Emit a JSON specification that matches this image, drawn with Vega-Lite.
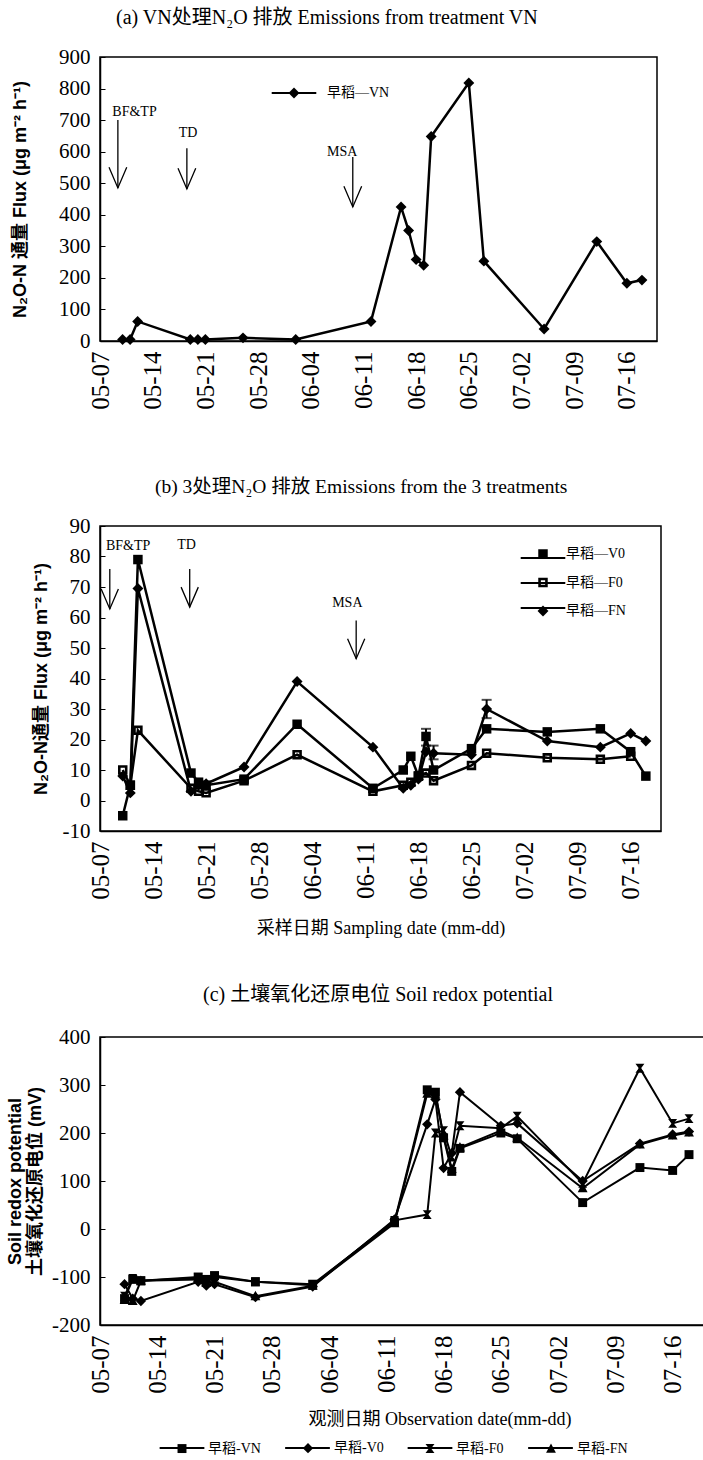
{
  "$schema": "https://vega.github.io/schema/vega-lite/v6.json",
  "padding": {"left": 5, "top": 6, "right": 0, "bottom": 0},
  "background": "white",
  "datasets": {
    "a": [
      {"date": "2008-05-10", "series": "VN", "flux": 5},
      {"date": "2008-05-11", "series": "VN", "flux": 5},
      {"date": "2008-05-12", "series": "VN", "flux": 62},
      {"date": "2008-05-19", "series": "VN", "flux": 5},
      {"date": "2008-05-20", "series": "VN", "flux": 5},
      {"date": "2008-05-21", "series": "VN", "flux": 5},
      {"date": "2008-05-26", "series": "VN", "flux": 10},
      {"date": "2008-06-02", "series": "VN", "flux": 5},
      {"date": "2008-06-12", "series": "VN", "flux": 62},
      {"date": "2008-06-16", "series": "VN", "flux": 425},
      {"date": "2008-06-17", "series": "VN", "flux": 350},
      {"date": "2008-06-18", "series": "VN", "flux": 258},
      {"date": "2008-06-19", "series": "VN", "flux": 240},
      {"date": "2008-06-20", "series": "VN", "flux": 648},
      {"date": "2008-06-25", "series": "VN", "flux": 818},
      {"date": "2008-06-27", "series": "VN", "flux": 253},
      {"date": "2008-07-05", "series": "VN", "flux": 38},
      {"date": "2008-07-12", "series": "VN", "flux": 315},
      {"date": "2008-07-16", "series": "VN", "flux": 183},
      {"date": "2008-07-18", "series": "VN", "flux": 193}
    ],
    "annA": [
      {"label": "BF&TP", "date": "2008-05-09T09:00:00Z", "top": 700, "tip": 485, "ldate": "2008-05-11T14:00:00Z", "lval": 727},
      {"label": "TD", "date": "2008-05-18T13:00:00Z", "top": 611, "tip": 482, "ldate": "2008-05-18T17:00:00Z", "lval": 660},
      {"label": "MSA", "date": "2008-06-09T14:00:00Z", "top": 583, "tip": 425, "ldate": "2008-06-08T04:00:00Z", "lval": 600}
    ],
    "b": [
      {"date": "2008-05-10", "series": "V0", "flux": -5},
      {"date": "2008-05-11", "series": "V0", "flux": 5},
      {"date": "2008-05-12", "series": "V0", "flux": 79},
      {"date": "2008-05-19", "series": "V0", "flux": 9},
      {"date": "2008-05-20", "series": "V0", "flux": 6},
      {"date": "2008-05-21", "series": "V0", "flux": 5},
      {"date": "2008-05-26", "series": "V0", "flux": 7},
      {"date": "2008-06-02", "series": "V0", "flux": 25},
      {"date": "2008-06-12", "series": "V0", "flux": 4},
      {"date": "2008-06-16", "series": "V0", "flux": 10},
      {"date": "2008-06-17", "series": "V0", "flux": 14.5},
      {"date": "2008-06-18", "series": "V0", "flux": 8},
      {"date": "2008-06-19", "series": "V0", "flux": 21},
      {"date": "2008-06-20", "series": "V0", "flux": 10},
      {"date": "2008-06-25", "series": "V0", "flux": 17},
      {"date": "2008-06-27", "series": "V0", "flux": 23.5},
      {"date": "2008-07-05", "series": "V0", "flux": 22.5},
      {"date": "2008-07-12", "series": "V0", "flux": 23.5},
      {"date": "2008-07-16", "series": "V0", "flux": 16},
      {"date": "2008-07-18", "series": "V0", "flux": 8},
      {"date": "2008-05-10", "series": "F0", "flux": 10},
      {"date": "2008-05-11", "series": "F0", "flux": 5},
      {"date": "2008-05-12", "series": "F0", "flux": 23},
      {"date": "2008-05-19", "series": "F0", "flux": 4},
      {"date": "2008-05-20", "series": "F0", "flux": 3},
      {"date": "2008-05-21", "series": "F0", "flux": 2.5},
      {"date": "2008-05-26", "series": "F0", "flux": 6.5},
      {"date": "2008-06-02", "series": "F0", "flux": 15},
      {"date": "2008-06-12", "series": "F0", "flux": 3},
      {"date": "2008-06-16", "series": "F0", "flux": 5},
      {"date": "2008-06-17", "series": "F0", "flux": 6},
      {"date": "2008-06-18", "series": "F0", "flux": 8},
      {"date": "2008-06-19", "series": "F0", "flux": 9},
      {"date": "2008-06-20", "series": "F0", "flux": 6.5},
      {"date": "2008-06-25", "series": "F0", "flux": 11.5},
      {"date": "2008-06-27", "series": "F0", "flux": 15.5},
      {"date": "2008-07-05", "series": "F0", "flux": 14},
      {"date": "2008-07-12", "series": "F0", "flux": 13.5},
      {"date": "2008-07-16", "series": "F0", "flux": 14.5},
      {"date": "2008-05-10", "series": "FN", "flux": 8},
      {"date": "2008-05-11", "series": "FN", "flux": 2.5},
      {"date": "2008-05-12", "series": "FN", "flux": 69.5},
      {"date": "2008-05-19", "series": "FN", "flux": 3},
      {"date": "2008-05-20", "series": "FN", "flux": 5},
      {"date": "2008-05-21", "series": "FN", "flux": 5.5},
      {"date": "2008-05-26", "series": "FN", "flux": 11},
      {"date": "2008-06-02", "series": "FN", "flux": 39},
      {"date": "2008-06-12", "series": "FN", "flux": 17.5},
      {"date": "2008-06-16", "series": "FN", "flux": 4},
      {"date": "2008-06-17", "series": "FN", "flux": 5},
      {"date": "2008-06-18", "series": "FN", "flux": 7},
      {"date": "2008-06-19", "series": "FN", "flux": 16},
      {"date": "2008-06-20", "series": "FN", "flux": 15.5},
      {"date": "2008-06-25", "series": "FN", "flux": 15},
      {"date": "2008-06-27", "series": "FN", "flux": 30},
      {"date": "2008-07-05", "series": "FN", "flux": 19.5},
      {"date": "2008-07-12", "series": "FN", "flux": 17.5},
      {"date": "2008-07-16", "series": "FN", "flux": 22},
      {"date": "2008-07-18", "series": "FN", "flux": 19.5}
    ],
    "berr": [
      {"date": "2008-06-27", "series": "FN", "lo": 27, "hi": 33},
      {"date": "2008-06-19", "series": "V0", "lo": 18, "hi": 23.5},
      {"date": "2008-06-20", "series": "FN", "lo": 13.5, "hi": 18}
    ],
    "annB": [
      {"label": "BF&TP", "date": "2008-05-08T07:00:00Z", "top": 75.9, "tip": 62.8, "ldate": "2008-05-10T17:00:00Z", "lval": 83.5},
      {"label": "TD", "date": "2008-05-18T20:00:00Z", "top": 75.9, "tip": 63.4, "ldate": "2008-05-18T10:00:00Z", "lval": 83.7},
      {"label": "MSA", "date": "2008-06-09T19:00:00Z", "top": 59, "tip": 46.5, "ldate": "2008-06-08T15:00:00Z", "lval": 64.8}
    ],
    "c": [
      {"date": "2008-05-10", "series": "VN", "eh": -145},
      {"date": "2008-05-11", "series": "VN", "eh": -105},
      {"date": "2008-05-12", "series": "VN", "eh": -108},
      {"date": "2008-05-19", "series": "VN", "eh": -100},
      {"date": "2008-05-20", "series": "VN", "eh": -105},
      {"date": "2008-05-21", "series": "VN", "eh": -97},
      {"date": "2008-05-26", "series": "VN", "eh": -110},
      {"date": "2008-06-02", "series": "VN", "eh": -115},
      {"date": "2008-06-12", "series": "VN", "eh": 15},
      {"date": "2008-06-16", "series": "VN", "eh": 290},
      {"date": "2008-06-17", "series": "VN", "eh": 285},
      {"date": "2008-06-18", "series": "VN", "eh": 190},
      {"date": "2008-06-19", "series": "VN", "eh": 120},
      {"date": "2008-06-20", "series": "VN", "eh": 168},
      {"date": "2008-06-25", "series": "VN", "eh": 200},
      {"date": "2008-06-27", "series": "VN", "eh": 188},
      {"date": "2008-07-05", "series": "VN", "eh": 55},
      {"date": "2008-07-12", "series": "VN", "eh": 128},
      {"date": "2008-07-16", "series": "VN", "eh": 122},
      {"date": "2008-07-18", "series": "VN", "eh": 155},
      {"date": "2008-05-10", "series": "V0", "eh": -115},
      {"date": "2008-05-11", "series": "V0", "eh": -145},
      {"date": "2008-05-12", "series": "V0", "eh": -150},
      {"date": "2008-05-19", "series": "V0", "eh": -110},
      {"date": "2008-05-20", "series": "V0", "eh": -118},
      {"date": "2008-05-21", "series": "V0", "eh": -115},
      {"date": "2008-05-26", "series": "V0", "eh": -142},
      {"date": "2008-06-02", "series": "V0", "eh": -120},
      {"date": "2008-06-12", "series": "V0", "eh": 20},
      {"date": "2008-06-16", "series": "V0", "eh": 218},
      {"date": "2008-06-17", "series": "V0", "eh": 270},
      {"date": "2008-06-18", "series": "V0", "eh": 127},
      {"date": "2008-06-19", "series": "V0", "eh": 158},
      {"date": "2008-06-20", "series": "V0", "eh": 285},
      {"date": "2008-06-25", "series": "V0", "eh": 215},
      {"date": "2008-06-27", "series": "V0", "eh": 220},
      {"date": "2008-07-05", "series": "V0", "eh": 100},
      {"date": "2008-07-12", "series": "V0", "eh": 178},
      {"date": "2008-07-16", "series": "V0", "eh": 197},
      {"date": "2008-07-18", "series": "V0", "eh": 203},
      {"date": "2008-05-10", "series": "F0", "eh": -140},
      {"date": "2008-05-11", "series": "F0", "eh": -103},
      {"date": "2008-05-12", "series": "F0", "eh": -108},
      {"date": "2008-05-19", "series": "F0", "eh": -102},
      {"date": "2008-05-20", "series": "F0", "eh": -110},
      {"date": "2008-05-21", "series": "F0", "eh": -100},
      {"date": "2008-05-26", "series": "F0", "eh": -110},
      {"date": "2008-06-02", "series": "F0", "eh": -117},
      {"date": "2008-06-12", "series": "F0", "eh": 18},
      {"date": "2008-06-16", "series": "F0", "eh": 30},
      {"date": "2008-06-17", "series": "F0", "eh": 200},
      {"date": "2008-06-18", "series": "F0", "eh": 205},
      {"date": "2008-06-19", "series": "F0", "eh": 150},
      {"date": "2008-06-20", "series": "F0", "eh": 215},
      {"date": "2008-06-25", "series": "F0", "eh": 210},
      {"date": "2008-06-27", "series": "F0", "eh": 235},
      {"date": "2008-07-05", "series": "F0", "eh": 95},
      {"date": "2008-07-12", "series": "F0", "eh": 335},
      {"date": "2008-07-16", "series": "F0", "eh": 220},
      {"date": "2008-07-18", "series": "F0", "eh": 230},
      {"date": "2008-05-10", "series": "FN", "eh": -148},
      {"date": "2008-05-11", "series": "FN", "eh": -150},
      {"date": "2008-05-12", "series": "FN", "eh": -108},
      {"date": "2008-05-19", "series": "FN", "eh": -105},
      {"date": "2008-05-20", "series": "FN", "eh": -112},
      {"date": "2008-05-21", "series": "FN", "eh": -110},
      {"date": "2008-05-26", "series": "FN", "eh": -140},
      {"date": "2008-06-02", "series": "FN", "eh": -118},
      {"date": "2008-06-12", "series": "FN", "eh": 12},
      {"date": "2008-06-16", "series": "FN", "eh": 282},
      {"date": "2008-06-17", "series": "FN", "eh": 280},
      {"date": "2008-06-18", "series": "FN", "eh": 195},
      {"date": "2008-06-19", "series": "FN", "eh": 125},
      {"date": "2008-06-20", "series": "FN", "eh": 170},
      {"date": "2008-06-25", "series": "FN", "eh": 205},
      {"date": "2008-06-27", "series": "FN", "eh": 190},
      {"date": "2008-07-05", "series": "FN", "eh": 85},
      {"date": "2008-07-12", "series": "FN", "eh": 176},
      {"date": "2008-07-16", "series": "FN", "eh": 195},
      {"date": "2008-07-18", "series": "FN", "eh": 201}
    ]
  },
  "columns": 1,
  "spacing": 45,
  "align": "none",
  "resolve": {"scale": {"shape": "independent", "color": "independent"}, "legend": {"shape": "independent", "color": "independent"}},
  "concat": [
    {
      "width": 557,
      "height": 284,
      "title": {"text": "(a) VN处理N₂O 排放 Emissions from treatment VN", "anchor": "start", "frame": "group", "dx": 16, "offset": 18.5},
      "layer": [
        {
          "data": {"name": "a"},
          "mark": {"type": "line", "strokeWidth": 2.5},
          "encoding": {
            "x": {"field": "date", "type": "temporal",
              "scale": {"type": "utc", "domain": [{"year": 2008, "month": 5, "date": 7, "utc": true}, {"year": 2008, "month": 7, "date": 20, "utc": true}]},
              "axis": {"title": null, "format": "%m-%d", "labelAngle": 270, "labelFontSize": 25, "labelPadding": 10, "ticks": false, "labelOverlap": false,
                "values": [{"year": 2008, "month": 5, "date": 7, "utc": true}, {"year": 2008, "month": 5, "date": 14, "utc": true}, {"year": 2008, "month": 5, "date": 21, "utc": true}, {"year": 2008, "month": 5, "date": 28, "utc": true}, {"year": 2008, "month": 6, "date": 4, "utc": true}, {"year": 2008, "month": 6, "date": 11, "utc": true}, {"year": 2008, "month": 6, "date": 18, "utc": true}, {"year": 2008, "month": 6, "date": 25, "utc": true}, {"year": 2008, "month": 7, "date": 2, "utc": true}, {"year": 2008, "month": 7, "date": 9, "utc": true}, {"year": 2008, "month": 7, "date": 16, "utc": true}]}},
            "y": {"field": "flux", "type": "quantitative",
              "scale": {"domain": [0, 900], "nice": false, "zero": false},
              "axis": {"title": "N₂O-N 通量 Flux (μg m⁻² h⁻¹)", "values": [0, 100, 200, 300, 400, 500, 600, 700, 800, 900], "tickCount": 30, "labelOverlap": false, "labelFontSize": 21, "labelPadding": 15, "tickSize": -5, "titleFont": "Liberation Sans, Noto Sans CJK SC", "titleFontWeight": "bold", "titleFontSize": 18, "titlePadding": 29}},
            "color": {"field": "series", "type": "nominal",
              "scale": {"domain": ["VN", "~"], "range": ["black", "black"]},
              "legend": {"orient": "none", "legendX": 187, "legendY": 29, "title": null, "padding": 0, "values": ["VN"], "symbolType": "M-4.7,0H4.7", "symbolSize": 90, "symbolStrokeWidth": 2.2, "symbolStrokeColor": "black", "labelOffset": 26, "labelFontSize": 14, "labelFont": "Liberation Serif, Noto Sans CJK SC", "labelOpacity": 0, "labelExpr": "'早稻—' + datum.label"}}
          }
        },
        {
          "data": {"name": "a"},
          "mark": {"type": "point", "filled": true, "color": "black", "opacity": 1, "size": 90},
          "encoding": {
            "x": {"field": "date", "type": "temporal"},
            "y": {"field": "flux", "type": "quantitative"},
            "shape": {"field": "series", "type": "nominal",
              "scale": {"domain": ["VN"], "range": ["M0,-1.15L1.15,0L0,1.15L-1.15,0Z"]},
              "legend": {"orient": "none", "legendX": 187, "legendY": 29, "title": null, "padding": 0, "symbolSize": 90, "symbolStrokeWidth": 2.2, "symbolStrokeColor": "black", "symbolFillColor": "black", "labelOffset": 26, "labelFontSize": 14, "labelFont": "Liberation Serif, Noto Sans CJK SC", "labelColor": "black", "labelExpr": "'早稻—' + datum.label"}}
          }
        },
        {
          "data": {"name": "annA"},
          "mark": {"type": "rule", "color": "black", "strokeWidth": 1.3},
          "encoding": {"x": {"field": "date", "type": "temporal"}, "y": {"field": "top", "type": "quantitative"}, "y2": {"field": "tip"}}
        },
        {
          "data": {"name": "annA"},
          "mark": {"type": "point", "shape": "M-0.43,-1L0,0L0.43,-1", "size": 1700, "filled": false, "color": "black", "strokeWidth": 1.3, "opacity": 1},
          "encoding": {"x": {"field": "date", "type": "temporal"}, "y": {"field": "tip", "type": "quantitative"}}
        },
        {
          "data": {"name": "annA"},
          "mark": {"type": "text", "font": "Liberation Serif", "fontSize": 14, "color": "black", "align": "center", "baseline": "middle"},
          "encoding": {"x": {"field": "ldate", "type": "temporal"}, "y": {"field": "lval", "type": "quantitative"}, "text": {"field": "label"}}
        }
      ]
    },
    {
      "width": 561,
      "height": 305,
      "title": {"text": ["", "(b) 3处理N₂O 排放 Emissions from the 3 treatments"], "lineHeight": 19.5, "anchor": "start", "frame": "group", "dx": 55, "offset": 18, "fontSize": 19.5},
      "layer": [
        {
          "data": {"name": "b"},
          "mark": {"type": "line", "strokeWidth": 2.5},
          "encoding": {
            "x": {"field": "date", "type": "temporal",
              "scale": {"type": "utc", "domain": [{"year": 2008, "month": 5, "date": 7, "utc": true}, {"year": 2008, "month": 7, "date": 20, "utc": true}]},
              "axis": {"title": "采样日期 Sampling date (mm-dd)", "titleFontSize": 18, "titleFontWeight": "normal", "titlePadding": 20, "format": "%m-%d", "labelAngle": 270, "labelFontSize": 25, "labelPadding": 10, "ticks": false, "labelOverlap": false,
                "values": [{"year": 2008, "month": 5, "date": 7, "utc": true}, {"year": 2008, "month": 5, "date": 14, "utc": true}, {"year": 2008, "month": 5, "date": 21, "utc": true}, {"year": 2008, "month": 5, "date": 28, "utc": true}, {"year": 2008, "month": 6, "date": 4, "utc": true}, {"year": 2008, "month": 6, "date": 11, "utc": true}, {"year": 2008, "month": 6, "date": 18, "utc": true}, {"year": 2008, "month": 6, "date": 25, "utc": true}, {"year": 2008, "month": 7, "date": 2, "utc": true}, {"year": 2008, "month": 7, "date": 9, "utc": true}, {"year": 2008, "month": 7, "date": 16, "utc": true}]}},
            "y": {"field": "flux", "type": "quantitative",
              "scale": {"domain": [-10, 90], "nice": false, "zero": false},
              "axis": {"title": ["", "N₂O-N通量 Flux (μg m⁻² h⁻¹)"], "titleLineHeight": 21, "values": [-10, 0, 10, 20, 30, 40, 50, 60, 70, 80, 90], "tickCount": 30, "labelExpr": "'' + datum.value", "labelOverlap": false, "labelFontSize": 21, "labelPadding": 15, "tickSize": -5, "titleFont": "Liberation Sans, Noto Sans CJK SC", "titleFontWeight": "bold", "titleFontSize": 18, "titlePadding": 12}},
            "color": {"field": "series", "type": "nominal",
              "scale": {"domain": ["V0", "F0", "FN", "~"], "range": ["black", "black", "black", "black"]},
              "legend": {"orient": "none", "legendX": 436, "legendY": 25, "title": null, "padding": 0, "values": ["V0", "F0", "FN"], "symbolType": "M-4.7,0H4.7", "symbolSize": 90, "symbolStrokeWidth": 2.2, "symbolStrokeColor": "black", "labelOffset": 16, "rowPadding": 11, "labelFontSize": 14, "labelFont": "Liberation Serif, Noto Sans CJK SC", "labelOpacity": 0, "labelExpr": "'早稻—' + datum.label"}}
          }
        },
        {
          "data": {"name": "berr"},
          "mark": {"type": "errorbar", "color": "black", "ticks": {"color": "black", "size": 10, "thickness": 2}, "rule": {"strokeWidth": 2}},
          "encoding": {"x": {"field": "date", "type": "temporal"}, "y": {"field": "lo", "type": "quantitative", "title": ["", "N₂O-N通量 Flux (μg m⁻² h⁻¹)"]}, "y2": {"field": "hi"}}
        },
        {
          "data": {"name": "b"},
          "mark": {"type": "point", "filled": true, "color": "black", "opacity": 1, "size": 90},
          "encoding": {
            "x": {"field": "date", "type": "temporal"},
            "y": {"field": "flux", "type": "quantitative"},
            "shape": {"field": "series", "type": "nominal",
              "scale": {"domain": ["V0", "F0", "FN"], "range": ["M-1,-1H1V1H-1Z", "M-1,-1H1V1H-1ZM-0.45,-0.45V0.45H0.45V-0.45Z", "M0,-1.15L1.15,0L0,1.15L-1.15,0Z"]},
              "legend": {"orient": "none", "legendX": 436, "legendY": 21, "title": null, "padding": 0, "symbolSize": 90, "symbolStrokeWidth": 2.2, "symbolStrokeColor": "black", "symbolFillColor": "black", "labelOffset": 16, "rowPadding": 8.5, "labelFontSize": 14, "labelFont": "Liberation Serif, Noto Sans CJK SC", "labelColor": "black", "labelExpr": "'早稻—' + datum.label"}}
          }
        },
        {
          "data": {"name": "annB"},
          "mark": {"type": "rule", "color": "black", "strokeWidth": 1.3},
          "encoding": {"x": {"field": "date", "type": "temporal"}, "y": {"field": "top", "type": "quantitative"}, "y2": {"field": "tip"}}
        },
        {
          "data": {"name": "annB"},
          "mark": {"type": "point", "shape": "M-0.43,-1L0,0L0.43,-1", "size": 1600, "filled": false, "color": "black", "strokeWidth": 1.3, "opacity": 1},
          "encoding": {"x": {"field": "date", "type": "temporal"}, "y": {"field": "tip", "type": "quantitative"}}
        },
        {
          "data": {"name": "annB"},
          "mark": {"type": "text", "font": "Liberation Serif", "fontSize": 14, "color": "black", "align": "center", "baseline": "middle"},
          "encoding": {"x": {"field": "ldate", "type": "temporal"}, "y": {"field": "lval", "type": "quantitative"}, "text": {"field": "label"}}
        }
      ]
    },
    {
      "width": 679,
      "height": 288,
      "title": {"text": "(c) 土壤氧化还原电位 Soil redox potential", "anchor": "start", "frame": "group", "dx": 103, "offset": 21},
      "layer": [
        {
          "data": {"name": "c"},
          "mark": {"type": "line", "strokeWidth": 2},
          "encoding": {
            "x": {"field": "date", "type": "temporal",
              "scale": {"type": "utc", "domain": [{"year": 2008, "month": 5, "date": 7, "utc": true}, {"year": 2008, "month": 7, "date": 29, "utc": true}]},
              "axis": {"title": "观测日期 Observation date(mm-dd)", "titleFontSize": 18, "titleFontWeight": "normal", "titlePadding": 17, "format": "%m-%d", "labelAngle": 270, "labelFontSize": 25, "labelPadding": 10, "ticks": false, "labelOverlap": false,
                "values": [{"year": 2008, "month": 5, "date": 7, "utc": true}, {"year": 2008, "month": 5, "date": 14, "utc": true}, {"year": 2008, "month": 5, "date": 21, "utc": true}, {"year": 2008, "month": 5, "date": 28, "utc": true}, {"year": 2008, "month": 6, "date": 4, "utc": true}, {"year": 2008, "month": 6, "date": 11, "utc": true}, {"year": 2008, "month": 6, "date": 18, "utc": true}, {"year": 2008, "month": 6, "date": 25, "utc": true}, {"year": 2008, "month": 7, "date": 2, "utc": true}, {"year": 2008, "month": 7, "date": 9, "utc": true}, {"year": 2008, "month": 7, "date": 16, "utc": true}]}},
            "y": {"field": "eh", "type": "quantitative",
              "scale": {"domain": [-200, 400], "nice": false, "zero": false},
              "axis": {"title": ["Soil redox potential", "土壤氧化还原电位 (mV)"], "values": [-200, -100, 0, 100, 200, 300, 400], "tickCount": 30, "labelExpr": "'' + datum.value", "labelOverlap": false, "labelFontSize": 21, "labelPadding": 15, "tickSize": -5, "titleFont": "Liberation Sans, Noto Sans CJK SC", "titleFontWeight": "bold", "titleFontSize": 18, "titleLineHeight": 20, "titlePadding": 7}},
            "color": {"field": "series", "type": "nominal",
              "scale": {"domain": ["VN", "V0", "F0", "FN", "~"], "range": ["black", "black", "black", "black", "black"]},
              "legend": {"orient": "none", "direction": "horizontal", "columns": 4, "legendX": 75, "legendY": 404, "title": null, "padding": 0, "values": ["VN", "V0", "F0", "FN"], "symbolType": "M-5,0H5", "symbolSize": 80, "symbolStrokeWidth": 2.2, "symbolStrokeColor": "black", "labelOffset": 19, "columnPadding": 19.5, "labelFontSize": 14, "labelFont": "Liberation Serif, Noto Sans CJK SC", "labelOpacity": 0, "labelExpr": "'早稻-' + datum.label"}}
          }
        },
        {
          "data": {"name": "c"},
          "mark": {"type": "point", "filled": true, "color": "black", "opacity": 1, "size": 80},
          "encoding": {
            "x": {"field": "date", "type": "temporal"},
            "y": {"field": "eh", "type": "quantitative"},
            "shape": {"field": "series", "type": "nominal",
              "scale": {"domain": ["VN", "V0", "F0", "FN"], "range": ["M-1,-1H1V1H-1Z", "M0,-1.15L1.15,0L0,1.15L-1.15,0Z", "M-1,-1H1L0.25,0L1,1H-1L-0.25,0Z", "M0,-1.2L1.1,0.9H-1.1Z"]},
              "legend": {"orient": "none", "direction": "horizontal", "columns": 4, "legendX": 75, "legendY": 404, "title": null, "padding": 0, "symbolSize": 80, "symbolStrokeWidth": 2.2, "symbolStrokeColor": "black", "symbolFillColor": "black", "labelOffset": 19, "columnPadding": 37, "labelFontSize": 14, "labelFont": "Liberation Serif, Noto Sans CJK SC", "labelColor": "black", "labelExpr": "'早稻-' + datum.label"}}
          }
        }
      ]
    }
  ],
  "config": {
    "view": {"stroke": "black", "strokeWidth": 1.5},
    "axis": {"grid": false, "labelOverlap": false, "domainColor": "black", "domainWidth": 1.5, "tickColor": "black", "labelColor": "black", "titleColor": "black", "labelFont": "Liberation Serif", "titleFont": "Liberation Serif, Noto Sans CJK SC"},
    "title": {"font": "Liberation Serif, Noto Sans CJK SC", "fontSize": 20, "fontWeight": "normal", "color": "black"}
  }
}
